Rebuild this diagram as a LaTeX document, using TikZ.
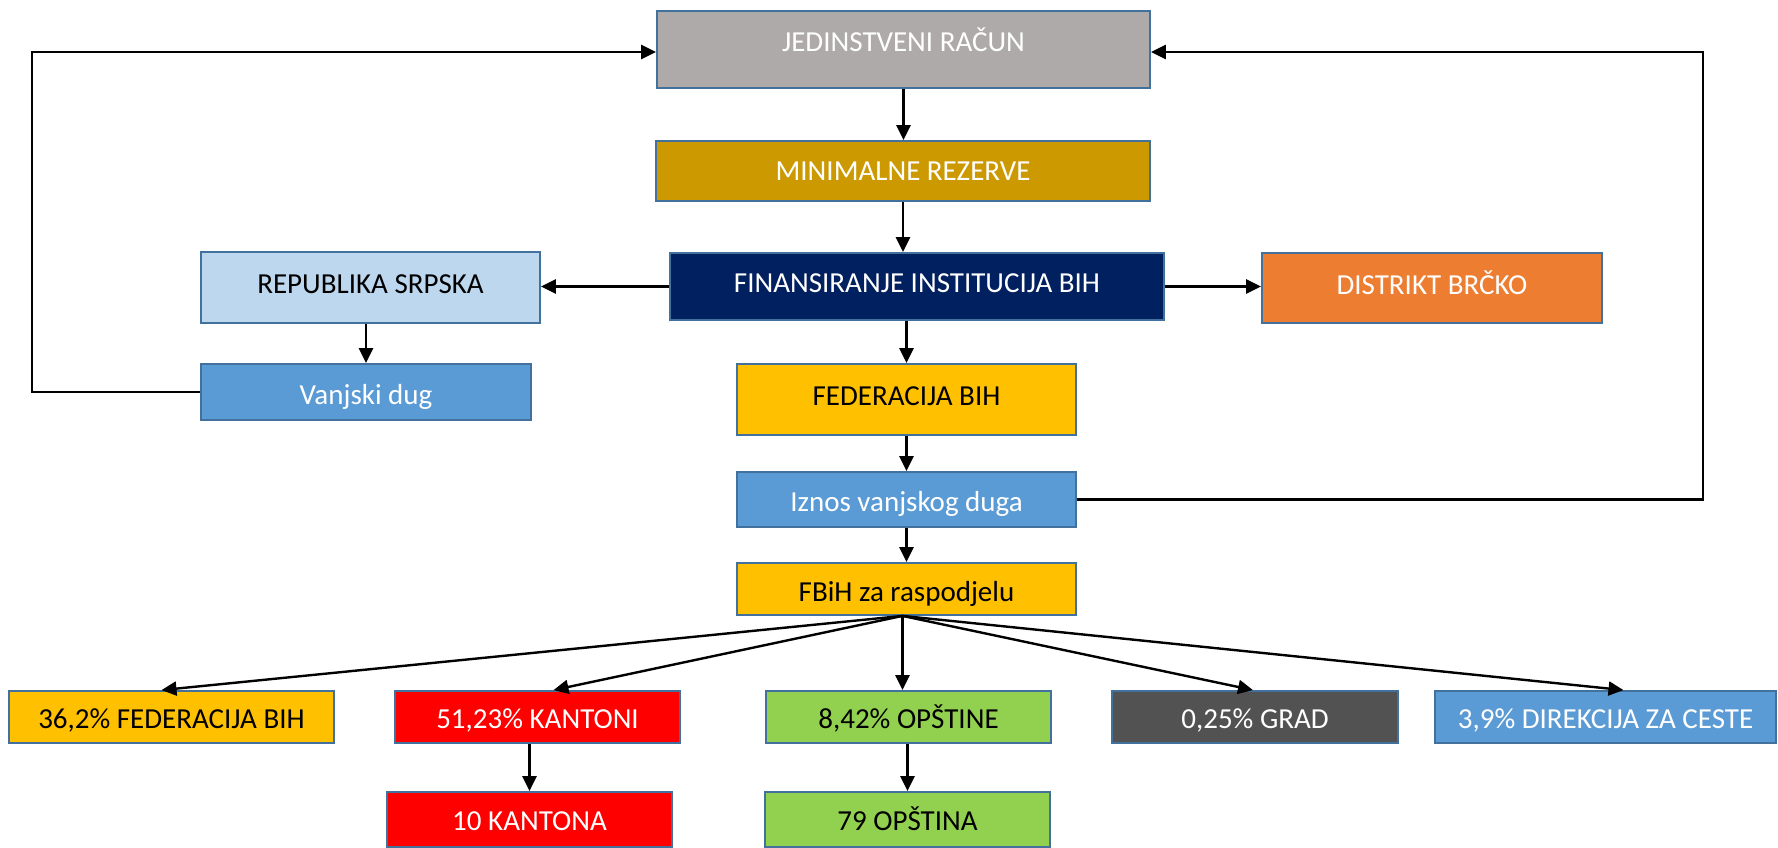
\documentclass[tikz,border=0pt]{standalone}
\usepackage{fontspec}
\setmainfont{Carlito}
\usetikzlibrary{arrows.meta,calc}
\definecolor{cgray}{HTML}{AEAAAA}
\definecolor{cgold}{HTML}{CC9900}
\definecolor{cnavy}{HTML}{002060}
\definecolor{clight}{HTML}{BDD7EE}
\definecolor{cblue}{HTML}{5B9BD5}
\definecolor{corange}{HTML}{ED7D31}
\definecolor{camber}{HTML}{FFC000}
\definecolor{cred}{HTML}{FF0000}
\definecolor{cgreen}{HTML}{92D050}
\definecolor{cdark}{HTML}{525252}
\definecolor{cborder}{HTML}{41719C}
\begin{document}
\begin{tikzpicture}[x=1pt,y=-1pt,
  box/.style={draw=cborder, line width=1.8pt, rectangle, inner sep=0pt,
    font=\fontsize{29}{34}\selectfont, text height=19pt, text depth=7pt},
  arr/.style={line width=2.4pt, -{Triangle[length=15pt,width=14pt]}},
]
\useasboundingbox (0,0) rectangle (1778,848);

\node[box, fill=cgray, text=white, minimum width=493pt, minimum height=77pt, text depth=15pt] (jr) at (903.5,49.5) {JEDINSTVENI RAČUN};
\node[box, fill=cgold, text=white, minimum width=494pt, minimum height=60pt, text height=25pt] (mr) at (903,171) {MINIMALNE REZERVE};
\node[box, fill=cnavy, text=white, minimum width=494pt, minimum height=67pt] (fin) at (917,286.5) {FINANSIRANJE INSTITUCIJA BIH};
\node[box, fill=clight, text=black, minimum width=339pt, minimum height=71pt] (rs) at (370.5,287.5) {REPUBLIKA SRPSKA};
\node[box, fill=cblue, text=white, minimum width=330pt, minimum height=56pt, text height=31pt] (vd) at (366,392) {Vanjski dug};
\node[box, fill=corange, text=white, minimum width=340pt, minimum height=70pt] (db) at (1432,288) {DISTRIKT BRČKO};
\node[box, fill=camber, text=black, minimum width=339pt, minimum height=71pt] (fed) at (906.5,399.5) {FEDERACIJA BIH};
\node[box, fill=cblue, text=white, minimum width=339pt, minimum height=55pt, text height=31pt] (iz) at (906.5,499.5) {Iznos vanjskog duga};
\node[box, fill=camber, text=black, minimum width=339pt, minimum height=52pt, text height=31pt] (fr) at (906.5,589) {FBiH za raspodjelu};

\node[box, fill=camber, text=black, minimum width=325pt, minimum height=52pt, text height=30pt] (b1) at (171.5,717) {36,2\% FEDERACIJA BIH};
\node[box, fill=cred, text=white, minimum width=285pt, minimum height=52pt, text height=30pt] (b2) at (537.5,717) {51,23\% KANTONI};
\node[box, fill=cgreen, text=black, minimum width=285pt, minimum height=52pt, text height=30pt] (b3) at (908.5,717) {8,42\% OPŠTINE};
\node[box, fill=cdark, text=white, minimum width=286pt, minimum height=52pt, text height=30pt] (b4) at (1255,717) {0,25\% GRAD};
\node[box, fill=cblue, text=white, minimum width=341pt, minimum height=52pt, text height=30pt] (b5) at (1605.5,717) {3,9\% DIREKCIJA ZA CESTE};

\node[box, fill=cred, text=white, minimum width=285pt, minimum height=55pt, text height=29pt] (c1) at (529.5,819.5) {10 KANTONA};
\node[box, fill=cgreen, text=black, minimum width=285pt, minimum height=55pt, text height=29pt] (c2) at (907.5,819.5) {79 OPŠTINA};

% vertical chain
\draw[arr] (jr.south) -- (jr.south |- mr.north);
\draw[arr] (mr.south) -- (mr.south |- fin.north);
\draw[arr] (fin.south -| fed.north) -- (fed.north);
\draw[arr] (fed.south) -- (iz.north);
\draw[arr] (iz.south) -- (fr.north);
\draw[arr] (rs.south -| vd.north) -- (vd.north);
\draw[arr] (b2.south -| c1.north) -- (c1.north);
\draw[arr] (b3.south -| c2.north) -- (c2.north);

% horizontal
\draw[arr] (fin.west) -- (fin.west -| rs.east);
\draw[arr] (fin.east) -- (fin.east -| db.west);

% feedback loops
\coordinate (lx) at (32,52);
\coordinate (rx) at (1703,52);
\draw[arr] (vd.west) -| (lx) -- (lx -| jr.west);
\draw[arr] (iz.east) -| (rx) -- (rx -| jr.east);

% fan
\coordinate (fo) at ($(fr.south)+(-4,0)$);
\draw[arr] (fo) -- ($(b1.north)+(-10,0)$);
\draw[arr] (fo) -- ($(b2.north)+(16,0)$);
\draw[arr] (fo) -- (fo |- b3.north);
\draw[arr] (fo) -- ($(b4.north)+(-2,0)$);
\draw[arr] (fo) -- ($(b5.north)+(18,0)$);
\end{tikzpicture}
\end{document}
